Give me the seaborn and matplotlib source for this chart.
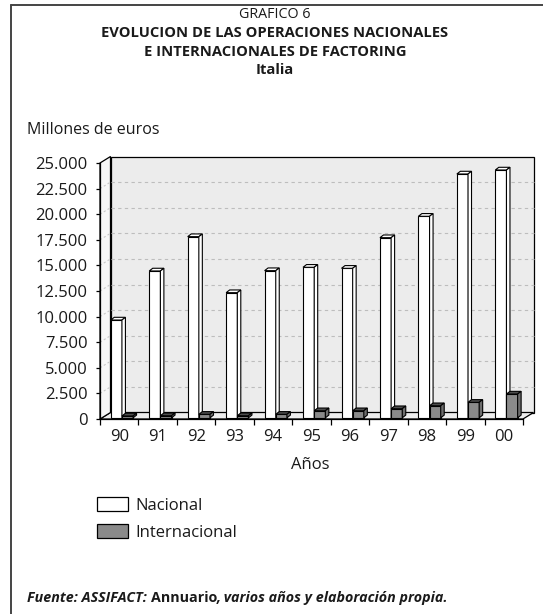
import matplotlib
matplotlib.use("Agg")
import matplotlib.pyplot as plt
from matplotlib.patches import Polygon, Patch
from matplotlib.lines import Line2D
from matplotlib.transforms import ScaledTranslation, IdentityTransform
from matplotlib.ticker import FuncFormatter, FixedLocator
import numpy as np
import pandas as pd
import seaborn as sns

# ---- data (millones de euros) ----
years = ["90", "91", "92", "93", "94", "95", "96", "97", "98", "99", "00"]
nacional = [9550, 14340, 17690, 12220, 14370, 14700, 14600, 17590, 19680, 23810, 24200]
internacional = [180, 205, 340, 205, 340, 690, 690, 890, 1180, 1510, 2320]
series = ["Nacional", "Internacional"]
y_ticks = [0, 2500, 5000, 7500, 10000, 12500, 15000, 17500, 20000, 22500, 25000]

df = pd.DataFrame({
    "Año": years * 2,
    "Serie": [series[0]] * len(years) + [series[1]] * len(years),
    "Valor": nacional + internacional,
})

# ---- style ----
sns.set_theme(style="white")
plt.rcParams["font.family"] = ["Open Sans", "DejaVu Sans"]
TXT = "#1a1a1a"
W, H = 543, 614
fig = plt.figure(figsize=(W / 100, H / 100), dpi=100)


def fpos(x, y):
    """pixel position (from top-left) -> figure fraction"""
    return x / W, 1 - y / H


# axes = front plane of the 3D box
ax_l, ax_r, ax_b, ax_t = 100, 523, 419, 163
ax = fig.add_axes([ax_l / W, 1 - ax_b / H, (ax_r - ax_l) / W, (ax_b - ax_t) / H])
ax.set_facecolor("none")

colors = {"Nacional": "#ffffff", "Internacional": "#8a8a8a"}
sns.barplot(data=df, x="Año", y="Valor", hue="Serie", hue_order=series,
            palette=colors, saturation=1, width=0.58, edgecolor="black",
            linewidth=0.8, legend=False, ax=ax, zorder=3)
bars = list(ax.patches)

ax.set_xlim(-0.5, len(years) - 0.5)
ax.set_ylim(0, 25000)

# depth of the box and of the bars (pixels)
DX, DY = 10.5, 6.5
BDX, BDY = 3.5, 2.7
bar_shift = ScaledTranslation(2.7 / 100, 1.2 / 100, fig.dpi_scale_trans)
wall_shift = ScaledTranslation(DX / 100, DY / 100, fig.dpi_scale_trans)

ident = IdentityTransform()


def disp(x, y, tr=None):
    tr = ax.transData if tr is None else tr
    return tr.transform((x, y))


def face(verts, fc, z, lw=0.8):
    ax.add_patch(Polygon(verts, closed=True, transform=ident, facecolor=fc,
                         edgecolor="black", lw=lw, zorder=z, clip_on=False))


x0, x1 = -0.5, len(years) - 0.5
# back wall
bl = disp(x0, 0) + [DX, DY]
br = disp(x1, 0) + [DX, DY]
tr_ = disp(x1, 25000) + [DX, DY]
tl = disp(x0, 25000) + [DX, DY]
face([bl, br, tr_, tl], "#ececec", 0.1, 0.9)
# floor
f0, f1 = disp(x0, 0), disp(x1, 0)
face([f0, f1, f1 + [DX, DY], f0 + [DX, DY]], "#eeeeee", 0.5, 0.9)
# left side wall
s0, s1 = disp(x0, 0), disp(x0, 25000)
face([s0, s0 + [DX, DY], s1 + [DX, DY], s1], "#f7f7f7", 0.5, 0.9)
# gridlines on back and side walls
for v in y_ticks[1:-1]:
    ax.plot([x0, x1], [v, v], transform=ax.transData + wall_shift,
            color="#bdbdbd", lw=0.8, ls=(0, (3, 3)), clip_on=False, zorder=0.8)
    p = disp(x0, v)
    ax.add_line(Line2D([p[0], p[0] + DX], [p[1], p[1] + DY], transform=ident,
                       color="#c8c8c8", lw=0.8, ls=(0, (2, 2)), zorder=0.8,
                       clip_on=False))

# bars: move into the box depth and add top / side faces
n = len(years)
for i, p in enumerate(bars):
    is_int = i >= n
    tr = ax.transData + bar_shift
    p.set_transform(tr)
    z = 4 if is_int else 3
    p.set_zorder(z)
    bx, by = p.get_x(), p.get_y()
    bw, bh = p.get_width(), p.get_height()
    ll = tr.transform((bx, by))
    ur = tr.transform((bx + bw, by + bh))
    top = [(ll[0], ur[1]), (ur[0], ur[1]), (ur[0] + BDX, ur[1] + BDY), (ll[0] + BDX, ur[1] + BDY)]
    side = [(ur[0], ll[1]), (ur[0] + BDX, ll[1] + BDY), (ur[0] + BDX, ur[1] + BDY), (ur[0], ur[1])]
    face(top, "#4d4d4d" if is_int else "#ffffff", z)
    face(side, "#6e6e6e" if is_int else "#ffffff", z)

# axes decoration
for s in ("top", "right"):
    ax.spines[s].set_visible(False)
for s in ("left", "bottom"):
    ax.spines[s].set_color("black")
    ax.spines[s].set_linewidth(0.9)
    ax.spines[s].set_zorder(5)

ax.yaxis.set_major_locator(FixedLocator(y_ticks))
ax.yaxis.set_major_formatter(FuncFormatter(lambda v, _: f"{int(v):,}".replace(",", ".")))
ax.tick_params(axis="y", left=True, length=3, width=0.9, color="black", pad=6,
               labelsize=12, labelcolor=TXT)
ax.set_xticks(range(n))
ax.set_xticklabels(years)
ax.set_xticks(np.arange(-0.5, n, 1.0), minor=True)
ax.tick_params(axis="x", which="major", length=0, pad=7, labelsize=12, labelcolor=TXT)
ax.tick_params(axis="x", which="minor", bottom=True, length=4, width=0.9, color="black")
ax.set_xlabel("")
ax.set_ylabel("")

# titles and labels
fig.text(*fpos(275, 15), "GRAFICO 6", ha="center", va="center", fontsize=10.3, color=TXT)
fig.text(*fpos(275, 33), "EVOLUCION DE LAS OPERACIONES NACIONALES", ha="center",
         va="center", fontsize=10.6, fontweight="bold", color=TXT)
fig.text(*fpos(275, 52), "E INTERNACIONALES DE FACTORING", ha="center",
         va="center", fontsize=10.6, fontweight="bold", color=TXT)
fig.text(*fpos(275, 70), "Italia", ha="center", va="center", fontsize=10.6,
         fontweight="bold", color=TXT)
fig.text(*fpos(27, 130), "Millones de euros", ha="left", va="center",
         fontsize=11.5, color=TXT)
fig.text(*fpos(310, 465), "Años", ha="center", va="center", fontsize=12, color=TXT)

# legend
handles = [Patch(facecolor=colors[s], edgecolor="black", lw=0.9) for s in series]
fig.legend(handles, series, loc="upper left", bbox_to_anchor=fpos(97, 497),
           frameon=False, fontsize=12, handlelength=1.85, handleheight=0.95,
           handletextpad=0.45, labelspacing=0.6, borderpad=0, borderaxespad=0,
           labelcolor=TXT)

# source note with mixed styles
fig.canvas.draw()
renderer = fig.canvas.get_renderer()
parts = [("Fuente: ASSIFACT: ", "italic"), ("Annuario", "normal"),
         (", varios años y elaboración propia.", "italic")]
x = 27
for txt, style in parts:
    t = fig.text(*fpos(x, 598), txt, ha="left", va="center", fontsize=10.3,
                 fontweight="bold", fontstyle=style, color=TXT)
    bb = t.get_window_extent(renderer)
    x += bb.width

# outer frame (left and top rules)
fig.add_artist(Line2D([11 / W, 11 / W], [0, 1 - 5 / H], transform=fig.transFigure,
                      color="#444444", lw=1.4))
fig.add_artist(Line2D([11 / W, 1], [1 - 5 / H, 1 - 5 / H], transform=fig.transFigure,
                      color="#444444", lw=1.4))

fig.savefig("out.png", dpi=100)
